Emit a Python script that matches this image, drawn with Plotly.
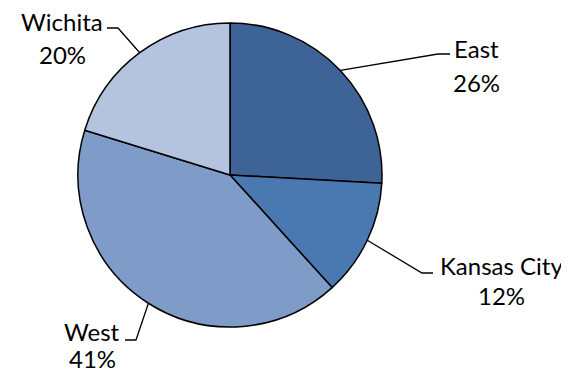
import math
import plotly.graph_objects as go

regions = ["East", "Kansas City", "West", "Wichita"]
sales = [25.8, 12.4, 41.4, 20.2]
colors = ["#3E6497", "#4A78B0", "#7F9CC8", "#B4C3DE"]

W, H = 569, 374
OFF = 8  # page body margin, figure starts 8px in
cx, cy, r = 230, 175, 152  # pie centre / radius in window px

# label placement (window px): leader elbow, leader end, text centre x, name y, percent y
label_pos = {
    "East": dict(elbow=(438, 54), end=(450, 54), tx=476, ny=48, py=82),
    "Kansas City": dict(elbow=(422, 273), end=(433, 273), tx=501, ny=265, py=295),
    "West": dict(elbow=(136, 340), end=(125, 340), tx=92, ny=331, py=358),
    "Wichita": dict(elbow=(118, 28), end=(107, 28), tx=62, ny=21, py=54),
}

fw, fh = W - OFF, H - OFF

fig = go.Figure()

fig.add_trace(go.Pie(
    labels=regions,
    values=sales,
    sort=False,
    direction="clockwise",
    rotation=0,
    marker=dict(colors=colors, line=dict(color="black", width=1.5)),
    textinfo="none",
    hoverinfo="label+percent",
    showlegend=False,
    domain=dict(
        x=[(cx - OFF - r) / fw, (cx - OFF + r) / fw],
        y=[(H - cy - r) / fh, (H - cy + r) / fh],
    ),
))

# leader lines start at the outer edge of each slice's mid-angle
total = sum(sales)
cum = 0
font = dict(family="Lato, sans-serif", size=24, color="black")
for name, v in zip(regions, sales):
    mid = (cum + v / 2) / total * 2 * math.pi
    cum += v
    sx = cx + r * math.sin(mid)
    sy = cy - r * math.cos(mid)
    p = label_pos[name]
    fig.add_trace(go.Scatter(
        x=[sx, p["elbow"][0], p["end"][0]],
        y=[sy, p["elbow"][1], p["end"][1]],
        mode="lines",
        line=dict(color="black", width=1.3),
        hoverinfo="skip",
        showlegend=False,
    ))
    fig.add_annotation(x=p["tx"], y=p["ny"], text=name, showarrow=False,
                       xref="x", yref="y", xanchor="center", yanchor="middle",
                       font=font)
    fig.add_annotation(x=p["tx"], y=p["py"], text=f"{round(v / total * 100)}%",
                       showarrow=False, xref="x", yref="y",
                       xanchor="center", yanchor="middle", font=font)

fig.update_layout(
    width=fw,
    height=fh,
    margin=dict(l=0, r=0, t=0, b=0),
    paper_bgcolor="white",
    plot_bgcolor="rgba(0,0,0,0)",
    xaxis=dict(range=[OFF, W], visible=False, fixedrange=True),
    yaxis=dict(range=[H, OFF], visible=False, fixedrange=True),
)

fig.write_html("out.html")
